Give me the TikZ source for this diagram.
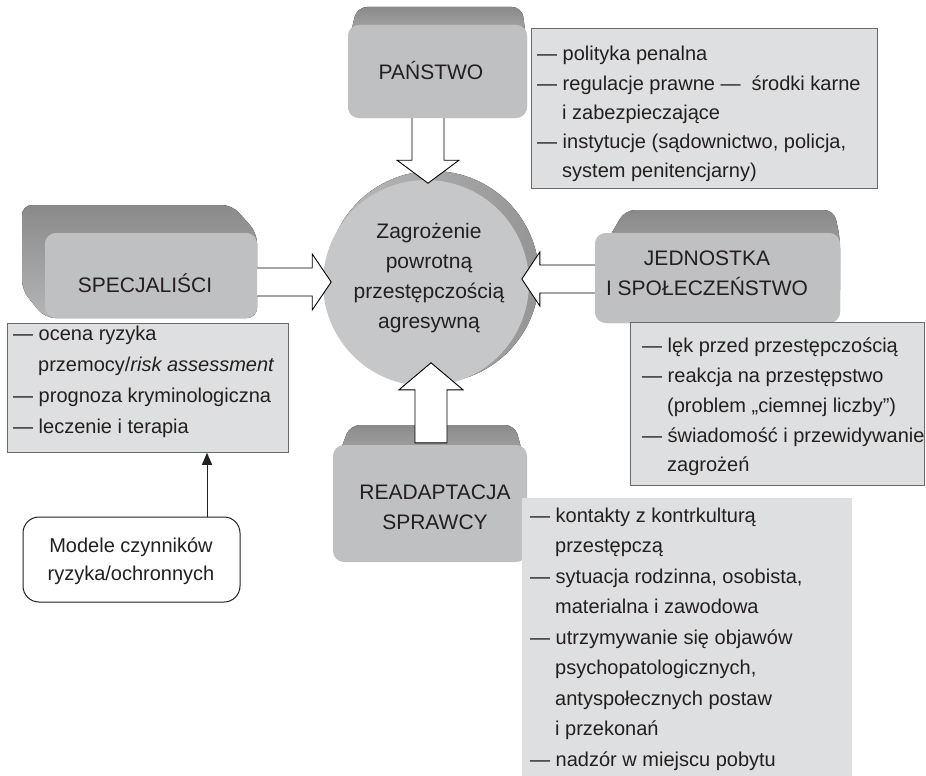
\documentclass[tikz,border=0pt]{standalone}
\usepackage{fontspec}
\setmainfont{Liberation Sans}
\usetikzlibrary{arrows.meta}
\definecolor{facegray}{HTML}{BFC0C2}
\definecolor{backtop}{HTML}{8A8A8B}
\definecolor{backbot}{HTML}{B4B5B6}
\definecolor{listgray}{HTML}{DEDFE0}
\definecolor{boxline}{HTML}{6A6A6A}
\definecolor{ink}{HTML}{231F20}
\definecolor{rimlight}{HTML}{B9BABB}
\definecolor{rimdark}{HTML}{959596}
\definecolor{discgray}{HTML}{C6C7C9}
\begin{document}
\begin{tikzpicture}[x=1pt,y=-1pt,
	face/.style={fill=facegray,rounded corners=11pt,inner sep=0pt},
	backface/.style={top color=backtop,bottom color=backbot,rounded corners=10pt},
	listbox/.style={fill=listgray,draw=boxline,line width=0.8pt,inner sep=0pt,anchor=north west},
	li/.style={anchor=mid west,inner sep=0pt,text=ink,font=\fontsize{20}{24}\selectfont},
	lbl/.style={align=center,inner sep=0pt,text=ink,font=\fontsize{21}{30}\selectfont},
	fatarrow/.style={draw=black,fill=white,line width=0.9pt,line join=miter},
	thinarrow/.style={draw=ink,line width=1pt,-{Triangle[length=12pt,width=10pt]}}]
	
	\useasboundingbox (0,0) rectangle (926,776);
	
	\fill[left color=rimlight,right color=rimdark](433,277) circle [radius=106];
	\node[circle,fill=discgray,minimum size=206pt,inner sep=0pt] (ctr) at (426,283) {};
	\node[lbl] (ctrtext) at (429,278) {Zagrożenie\\powrotną\\przestępczością\\agresywną};
	
	\fill[backface](348,45)--(357,7)--(522,7)--(527,45)--cycle;
	\fill[backface](22,205)--(232,205)--(257,233)--(257,318)--(45,318)--(22,290)--cycle;
	\fill[backface](595,262)--(625,210)--(834,210)--(840,238)--(840,300)--(595,300)--cycle;
	\fill[backface](333,470)--(350,425)--(515,425)--(527,470)--cycle;
	
	\node[face,minimum width=179pt,minimum height=93pt] (ps) at (437.5,71.5) {};
	\node[face,minimum width=212pt,minimum height=85pt] (sp) at (151,275.5) {};
	\node[face,minimum width=245pt,minimum height=90pt] (jd) at (717.5,278) {};
	\node[face,minimum width=194pt,minimum height=117pt] (ra) at (430,503.5) {};
	
	\draw[fatarrow]([xshift=-25.5pt,yshift=8pt]ps.south)--++(0,50)--++(-15,0)--++(31,23)
	--++(31,-23)--++(-15,0)--++(0,-50);
	\draw[fatarrow]([xshift=-7pt,yshift=7.5pt]sp.east)--++(62,0)--++(0,-14)--++(19,28)
	--++(-19,28)--++(0,-14)--++(-62,0);
	\draw[fatarrow]([xshift=7pt,yshift=13pt]jd.west)--++(-62,0)--++(0,-13)--++(-18,27)
	--++(18,27)--++(0,-13)--++(62,0);
	\draw[fatarrow]([xshift=-15pt,yshift=2pt]ra.north)--++(0,-53)--++(-16,0)--++(32,-27)
	--++(32,27)--++(-16,0)--++(0,53)--cycle;
	
	\node[face,minimum width=179pt,minimum height=93pt] at (ps) {};
	\node[face,minimum width=212pt,minimum height=85pt] at (sp) {};
	\node[face,minimum width=245pt,minimum height=90pt] at (jd) {};
	
	\node[lbl] (pstext) at (431,70) {PAŃSTWO};
	\node[lbl] (sptext) at (145,283) {SPECJALIŚCI};
	\node[lbl] (jdtext) at (707,273) {JEDNOSTKA\\I SPOŁECZEŃSTWO};
	\node[lbl] (ratext) at (435,507) {READAPTACJA\\SPRAWCY};
	
	\node[listbox,minimum width=346pt,minimum height=160pt] (plist) at (531,28) {};
	\node[li] (p1) at (537,58) {— polityka penalna};
	\node[li] (p2) at (537,88) {— regulacje prawne —\hspace{0.55em}środki karne};
	\node[li] (p3) at (562,117) {i zabezpieczające};
	\node[li] (p4) at (537,146) {— instytucje (sądownictwo, policja,};
	\node[li] (p5) at (562,175) {system penitencjarny)};
	
	\node[listbox,minimum width=281pt,minimum height=129pt] (slist) at (7,323) {};
	\node[li] (s1) at (13,338) {— ocena ryzyka};
	\node[li] (s2) at (38,369) {przemocy/\textit{risk assessment}};
	\node[li] (s3) at (13,400) {— prognoza kryminologiczna};
	\node[li] (s4) at (13,431) {— leczenie i terapia};
	
	\node[listbox,minimum width=294pt,minimum height=163pt] (jlist) at (630,322) {};
	\node[li] (j1) at (642,350) {— lęk przed przestępczością};
	\node[li] (j2) at (642,380) {— reakcja na przestępstwo};
	\node[li] (j3) at (667,410) {(problem „ciemnej liczby”)};
	\node[li] (j4) at (642,440) {— świadomość i przewidywanie};
	\node[li] (j5) at (667,469) {zagrożeń};
	
	\node[listbox,draw=none,minimum width=330pt,minimum height=290pt] (rlist) at (522,498) {};
	\node[li] (r1) at (530,520) {— kontakty z kontrkulturą};
	\node[li] (r2) at (555,550) {przestępczą};
	\node[li] (r3) at (530,581) {— sytuacja rodzinna, osobista,};
	\node[li] (r4) at (555,611) {materialna i zawodowa};
	\node[li] (r5) at (530,642) {— utrzymywanie się objawów};
	\node[li] (r6) at (555,672) {psychopatologicznych,};
	\node[li] (r7) at (555,703) {antyspołecznych postaw};
	\node[li] (r8) at (555,733) {i przekonań};
	\node[li] (r9) at (530,764) {— nadzór w miejscu pobytu};
	
	\node[draw=ink,fill=white,line width=1pt,rounded corners=16pt,minimum width=217pt,
	minimum height=85pt,inner sep=0pt] (mod) at (131.5,559.5) {};
	\node[lbl,font=\fontsize{20}{28}\selectfont] (modtext) at (131,561) {Modele czynników\\ryzyka/ochronnych};
	\draw[thinarrow]([xshift=75.5pt]mod.north)--([xshift=75.5pt]mod.north |- slist.south);
	
\end{tikzpicture}
\end{document}
